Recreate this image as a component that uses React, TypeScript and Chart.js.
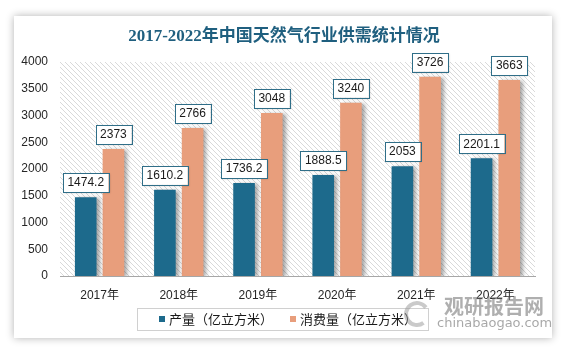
import React, { useEffect, useRef } from "react";
import { Chart, registerables } from "chart.js";

Chart.register(...registerables);

const categories = ["2017年", "2018年", "2019年", "2020年", "2021年", "2022年"];
const production = [1474.2, 1610.2, 1736.2, 1888.5, 2053, 2201.1];
const consumption = [2373, 2766, 3048, 3240, 3726, 3663];
const productionLabels = ["1474.2", "1610.2", "1736.2", "1888.5", "2053", "2201.1"];
const consumptionLabels = ["2373", "2766", "3048", "3240", "3726", "3663"];
const seriesNames = ["产量（亿立方米）", "消费量（亿立方米）"];
const title = "2017-2022年中国天然气行业供需统计情况";

const BLUE = "#1d6a8c";
const ORANGE = "#e89e7c";
const FONT = "'Liberation Sans', 'Noto Sans CJK SC', sans-serif";

function makePattern(ctx: CanvasRenderingContext2D) {
  const s = 5;
  const c = document.createElement("canvas");
  c.width = s;
  c.height = s;
  const g = c.getContext("2d")!;
  g.fillStyle = "#ffffff";
  g.fillRect(0, 0, s, s);
  g.strokeStyle = "#d9d9d9";
  g.lineWidth = 1;
  for (const k of [-s, 0, s]) {
    g.beginPath();
    g.moveTo(0, k);
    g.lineTo(s, s + k);
    g.stroke();
  }
  return ctx.createPattern(c, "repeat");
}

const decorPlugin = {
  id: "decor",
  beforeDatasetsDraw(chart: any) {
    const { ctx, chartArea } = chart;
    const p = makePattern(ctx);
    ctx.save();
    if (p) ctx.fillStyle = p;
    ctx.fillRect(chartArea.left, chartArea.top, chartArea.right - chartArea.left, chartArea.bottom - chartArea.top);
    ctx.restore();
  },
  beforeDatasetDraw(chart: any) {
    const ctx = chart.ctx;
    ctx.save();
    ctx.shadowColor = "rgba(0,0,0,0.35)";
    ctx.shadowOffsetX = 3;
    ctx.shadowOffsetY = 1;
    ctx.shadowBlur = 4;
  },
  afterDatasetDraw(chart: any) {
    chart.ctx.restore();
  },
  afterDraw(chart: any) {
    const ctx = chart.ctx;
    // title
    ctx.save();
    ctx.fillStyle = "#1f5f7f";
    ctx.font = "bold 17px 'Liberation Serif', 'Noto Sans CJK SC', serif";
    ctx.textAlign = "center";
    ctx.textBaseline = "middle";
    ctx.fillText(title, 270, 21);
    ctx.restore();

    // data labels
    const labelSets = [productionLabels, consumptionLabels];
    ctx.save();
    ctx.font = "12px " + FONT;
    ctx.textAlign = "center";
    ctx.textBaseline = "middle";
    chart.data.datasets.forEach((ds: any, di: number) => {
      const meta = chart.getDatasetMeta(di);
      meta.data.forEach((bar: any, i: number) => {
        const txt = labelSets[di][i];
        const w = ctx.measureText(txt).width + 9;
        const h = 19;
        const x = bar.x;
        const bottom = bar.y - 5;
        ctx.fillStyle = "#ffffff";
        ctx.shadowColor = "rgba(0,0,0,0.2)";
        ctx.shadowOffsetX = 1;
        ctx.shadowOffsetY = 1;
        ctx.shadowBlur = 2;
        ctx.fillRect(x - w / 2, bottom - h, w, h);
        ctx.shadowColor = "transparent";
        ctx.strokeStyle = "#2f6e88";
        ctx.lineWidth = 1;
        ctx.strokeRect(Math.round(x - w / 2) + 0.5, Math.round(bottom - h) + 0.5, Math.round(w), h);
        ctx.fillStyle = "#1a1a1a";
        ctx.fillText(txt, x, bottom - h / 2 + 0.5);
      });
    });
    ctx.restore();

    // legend
    ctx.save();
    ctx.strokeStyle = "#d0d0d0";
    ctx.lineWidth = 1;
    ctx.strokeRect(123.5, 292.5, 291, 22);
    ctx.font = "13px " + FONT;
    ctx.textBaseline = "middle";
    ctx.textAlign = "left";
    ctx.fillStyle = BLUE;
    ctx.fillRect(145, 300, 6, 6);
    ctx.fillStyle = "#1a1a1a";
    ctx.fillText(seriesNames[0], 155, 304);
    ctx.fillStyle = ORANGE;
    ctx.fillRect(276, 300, 6, 6);
    ctx.fillStyle = "#1a1a1a";
    ctx.fillText(seriesNames[1], 286, 304);
    ctx.restore();

    // watermark
    ctx.save();
    ctx.fillStyle = "rgba(110,110,110,0.55)";
    ctx.font = "bold 20px 'Noto Sans CJK SC', sans-serif";
    ctx.textAlign = "left";
    ctx.textBaseline = "middle";
    ctx.fillText("观研报告网", 430, 290);
    ctx.font = "13px 'DejaVu Sans', sans-serif";
    ctx.fillStyle = "rgba(110,110,110,0.6)";
    ctx.fillText("chinabaogao.com", 423, 308);
    ctx.strokeStyle = "rgba(150,150,150,0.5)";
    ctx.lineWidth = 4;
    ctx.beginPath();
    ctx.arc(403, 298, 11, Math.PI * 0.3, Math.PI * 1.8);
    ctx.stroke();
    ctx.restore();
  },
};

export default function App() {
  const ref = useRef<HTMLCanvasElement>(null);
  useEffect(() => {
    document.body.style.margin = "0";
    const chart = new Chart(ref.current!, {
      type: "bar",
      data: {
        labels: categories,
        datasets: [
          { label: seriesNames[0], data: production, backgroundColor: BLUE, categoryPercentage: 0.7, barPercentage: 0.78 },
          { label: seriesNames[1], data: consumption, backgroundColor: ORANGE, categoryPercentage: 0.7, barPercentage: 0.78 },
        ],
      },
      options: {
        animation: false,
        responsive: false,
        layout: { padding: { top: 46, right: 17, left: 0, bottom: 0 } },
        plugins: { legend: { display: false }, title: { display: false }, tooltip: { enabled: false } },
        scales: {
          x: {
            grid: { display: false },
            border: { display: true, color: "#a6a6a6" },
            ticks: { color: "#262626", font: { family: FONT, size: 12 }, padding: 4 },
            afterFit: (s: any) => { s.height = 62; },
          },
          y: {
            min: 0,
            max: 4000,
            grid: { display: false },
            border: { display: false },
            ticks: {
              stepSize: 500,
              color: "#262626",
              font: { family: FONT, size: 12 },
              padding: 4,
              callback: (v: any) => String(v),
            },
            afterFit: (s: any) => { s.width = 46; },
          },
        },
      },
      plugins: [decorPlugin],
    });
    return () => chart.destroy();
  }, []);
  return (
    <div style={{ position: "absolute", left: 0, top: 0, width: 564, height: 352, background: "#ffffff", overflow: "hidden" }}>
      <div style={{ position: "absolute", left: 14, top: 16, width: 538, height: 322, background: "#fff", boxShadow: "0 0 8px rgba(0,0,0,0.3)" }}>
        <canvas ref={ref} width={538} height={322} style={{ display: "block" }} />
      </div>
    </div>
  );
}
